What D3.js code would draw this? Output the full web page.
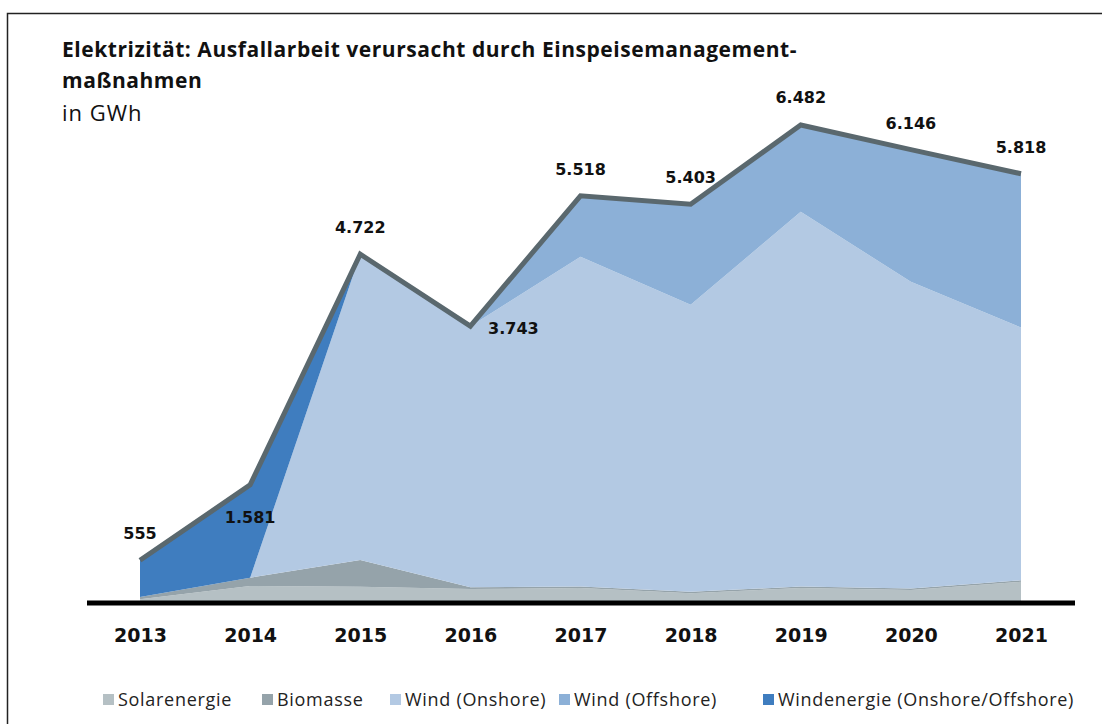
<!DOCTYPE html>
<html>
<head>
<meta charset="UTF-8">
<title>Ausfallarbeit Einspeisemanagement</title>
<style>
  html, body { margin: 0; padding: 0; background: #fff; }
  svg { display: block; }
</style>
</head>
<body>
<svg width="1102" height="724"></svg>
<script src="https://d3js.org/d3.v7.min.js"></script>
<script>
// data (GWh)
var years = ["2013", "2014", "2015", "2016", "2017", "2018", "2019", "2020", "2021"];
var totals = [555, 1581, 4722, 3743, 5518, 5403, 6482, 6146, 5818];
var solar = [25, 204, 194, 163, 177, 105, 177, 150, 262];
var biomass = [30, 113, 363, 23, 20, 20, 20, 20, 20];
var onshore = [0, 0, 4165, 3557, 4491, 3910, 5102, 4178, 3441];
var offshore = [0, 0, 0, 0, 830, 1368, 1183, 1798, 2095];
var windTotal = [500, 1264, 0, 0, 0, 0, 0, 0, 0];

var seriesNames = ["Solarenergie", "Biomasse", "Wind (Onshore)", "Wind (Offshore)", "Windenergie (Onshore/Offshore)"];
var seriesColors = ["#b5c0c4", "#95a3aa", "#b3c9e3", "#8cb0d7", "#3f7dbf"];

var svg = d3.select("svg");

// frame
svg.append("path")
  .attr("d", "M7.5,724V13.5H1102")
  .attr("fill", "none")
  .attr("stroke", "#222")
  .attr("stroke-width", 1.5);

// title
var title = svg.append("g").attr("font-family", "'Open Sans', sans-serif").attr("fill", "#111");
title.append("text").attr("x", 62).attr("y", 57).attr("font-size", 21).attr("font-weight", "bold")
  .attr("letter-spacing", 0.55)
  .text("Elektrizität: Ausfallarbeit verursacht durch Einspeisemanagement-");
title.append("text").attr("x", 62).attr("y", 88).attr("font-size", 21).attr("font-weight", "bold")
  .attr("letter-spacing", 0.55)
  .text("maßnahmen");
title.append("text").attr("x", 62).attr("y", 121).attr("font-size", 22)
  .attr("letter-spacing", 1)
  .text("in GWh");

// scales
var x = d3.scalePoint().domain(years).range([140, 1021]);
var y = d3.scaleLinear().domain([0, 6482]).range([601, 125]);

var table = years.map(function (yr, i) {
  return { year: yr, s0: solar[i], s1: biomass[i], s2: onshore[i], s3: offshore[i], s4: windTotal[i] };
});
var stack = d3.stack().keys(["s0", "s1", "s2", "s3", "s4"]);
var layers = stack(table);

var area = d3.area()
  .x(function (d) { return x(d.data.year); })
  .y0(function (d) { return y(d[0]); })
  .y1(function (d) { return y(d[1]); });

svg.append("g").selectAll("path")
  .data(layers)
  .join("path")
  .attr("d", area)
  .attr("fill", function (d, i) { return seriesColors[i]; });

// total line
var line = d3.line()
  .x(function (d, i) { return x(years[i]); })
  .y(function (d) { return y(d); });

svg.append("path")
  .datum(totals)
  .attr("d", line)
  .attr("fill", "none")
  .attr("stroke", "#5a686e")
  .attr("stroke-width", 5)
  .attr("stroke-linejoin", "miter");

// value labels
var labelOffset = [[0, -21], [0, 38], [0, -21], [43, 8], [0, -21], [0, -21], [0, -22], [0, -21], [0, -21]];
svg.append("g")
  .attr("font-family", "'DejaVu Sans', sans-serif")
  .attr("font-weight", "bold")
  .attr("font-size", 16)
  .attr("text-anchor", "middle")
  .attr("fill", "#111")
  .selectAll("text")
  .data(totals)
  .join("text")
  .attr("x", function (d, i) { return x(years[i]) + labelOffset[i][0]; })
  .attr("y", function (d, i) { return y(d) + labelOffset[i][1]; })
  .text(function (d) { return d3.format(",")(d).replace(",", "."); });

// x axis
var xAxis = svg.append("g")
  .attr("transform", "translate(0,603)")
  .call(d3.axisBottom(x).tickSize(0).tickPadding(26));
xAxis.select(".domain").remove();
xAxis.append("line")
  .attr("x1", 87).attr("x2", 1075)
  .attr("stroke", "#000").attr("stroke-width", 5);
xAxis.selectAll(".tick text")
  .attr("font-family", "'DejaVu Sans', sans-serif")
  .attr("font-weight", "bold")
  .attr("font-size", 19)
  .attr("fill", "#111");

// legend
var legendX = [103, 262, 390, 559, 763];
var legend = svg.append("g")
  .attr("font-family", "'Open Sans', sans-serif")
  .attr("font-size", 18)
  .attr("letter-spacing", 0.7)
  .selectAll("g")
  .data(seriesNames)
  .join("g")
  .attr("transform", function (d, i) { return "translate(" + legendX[i] + ",694)"; });
legend.append("rect")
  .attr("width", 11).attr("height", 11)
  .attr("fill", function (d, i) { return seriesColors[i]; });
legend.append("text")
  .attr("x", 15).attr("y", 12)
  .attr("fill", "#222")
  .text(function (d) { return d; });
</script>
</body>
</html>
